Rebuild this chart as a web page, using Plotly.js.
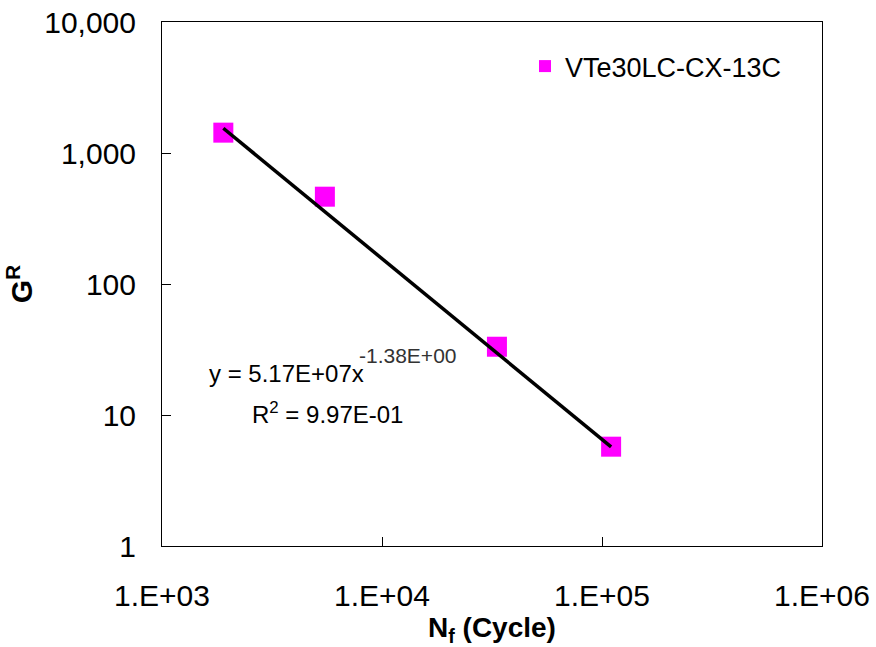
<!DOCTYPE html>
<html>
<head>
<meta charset="utf-8">
<script src="https://cdn.plot.ly/plotly-3.0.1.min.js"></script>
<style>
  html, body { margin: 0; padding: 0; background: #fff; }
  #chart { width: 876px; height: 647px; }
</style>
</head>
<body>
<div id="chart"></div>
<script>
// Data
const seriesName = "VTe30LC-CX-13C";
const cycles = [1900, 5500, 33300, 110000];
const gR = [1430, 464, 33.2, 5.73];

// Power-law trendline as printed on the chart: y = 5.17E+07 x^-1.38
const fitCoef = 5.17e7;
const fitExp = -1.38;
const fitX = [cycles[0], cycles[cycles.length - 1]];
const fitY = fitX.map(x => fitCoef * Math.pow(x, fitExp));

const xTickVals = [1e3, 1e4, 1e5, 1e6];
const xTickText = ["1.E+03", "1.E+04", "1.E+05", "1.E+06"];
const yTickVals = [1, 10, 100, 1000, 10000];
const yTickText = ["1", "10", "100", "1,000", "10,000"];

const eqText = "y = 5.17E+07x";
const eqExpText = "-1.38E+00";
const r2Text = "R<sup>2</sup> = 9.97E-01";

const FONT = "Liberation Sans, Arial, sans-serif";

const traces = [
  {
    x: cycles, y: gR, name: seriesName,
    type: "scatter", mode: "markers",
    marker: { symbol: "square", size: 20, color: "#ff00ff", line: { width: 0 } }
  },
  {
    x: fitX, y: fitY, type: "scatter", mode: "lines",
    line: { color: "#000000", width: 3.5 },
    showlegend: false, hoverinfo: "skip"
  }
];

const layout = {
  width: 876, height: 647,
  margin: { l: 162, r: 54, t: 22, b: 101 },
  paper_bgcolor: "#ffffff", plot_bgcolor: "#ffffff",
  font: { family: FONT, color: "#000000" },
  showlegend: true,
  legend: {
    x: 0.55, y: 0.915, xanchor: "left", yanchor: "middle",
    bgcolor: "rgba(255,255,255,0)",
    font: { size: 27, family: FONT, color: "#000" },
    itemsizing: "constant"
  },
  xaxis: {
    type: "log", range: [3, 6],
    tickvals: xTickVals, ticktext: xTickText,
    ticks: "inside", ticklen: 9, tickwidth: 1, tickcolor: "#000",
    showline: true, linecolor: "#000", linewidth: 1, mirror: true,
    showgrid: false, zeroline: false,
    ticklabelstandoff: 23,
    tickfont: { size: 30, family: FONT, color: "#000" },
    title: { text: "<b>N<sub>f</sub> (Cycle)</b>", font: { size: 28, family: FONT, color: "#000" }, standoff: 4 }
  },
  yaxis: {
    type: "log", range: [0, 4],
    tickvals: yTickVals, ticktext: yTickText,
    ticks: "inside", ticklen: 9, tickwidth: 1, tickcolor: "#000",
    showline: true, linecolor: "#000", linewidth: 1, mirror: true,
    showgrid: false, zeroline: false,
    ticklabelstandoff: 19,
    tickfont: { size: 30, family: FONT, color: "#000" },
    title: { text: "<b>G<sup>R</sup></b>", font: { size: 30, family: FONT, color: "#000" }, standoff: 2 }
  },
  annotations: [
    {
      xref: "x", yref: "y", x: Math.log10(1600), y: Math.log10(20.9),
      text: eqText, showarrow: false, xanchor: "left", yanchor: "middle",
      font: { size: 24, family: FONT, color: "#000" }
    },
    {
      xref: "x", yref: "y", x: Math.log10(7700), y: Math.log10(28.7),
      text: eqExpText, showarrow: false, xanchor: "left", yanchor: "middle",
      font: { size: 21, family: FONT, color: "#333" }
    },
    {
      xref: "x", yref: "y", x: Math.log10(2500), y: Math.log10(10.4),
      text: r2Text, showarrow: false, xanchor: "left", yanchor: "middle",
      font: { size: 24, family: FONT, color: "#000" }
    }
  ]
};

Plotly.newPlot("chart", traces, layout, { displayModeBar: false, staticPlot: true });
</script>
</body>
</html>
